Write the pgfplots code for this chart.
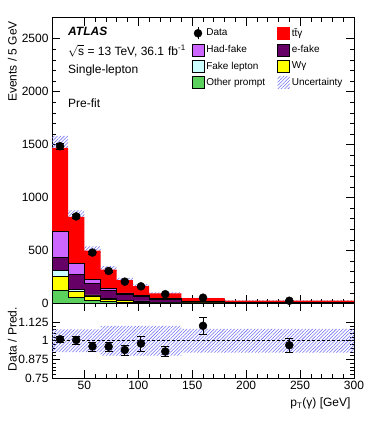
\documentclass[border=0pt]{standalone}
\usepackage{fontspec}
\setmainfont{Liberation Sans}
\usepackage{pgfplots}
\usepackage{pgfplotstable}
\pgfplotsset{compat=1.18}
\usepgfplotslibrary{fillbetween}
\usetikzlibrary{patterns.meta}

\definecolor{ttg}{RGB}{255,0,0}
\definecolor{hadfake}{RGB}{204,102,255}
\definecolor{efake}{RGB}{102,0,102}
\definecolor{fakelep}{RGB}{204,255,255}
\definecolor{wgam}{RGB}{255,255,0}
\definecolor{otherp}{RGB}{92,208,92}
\definecolor{hatch}{RGB}{110,110,245}

% left bin edges; cumulative stack tops (last row closes the 180-300 bin)
\pgfplotstableread{
x   tot  hf  ef  fl  wg  op  hi   lo   rhi   rlo
20  1470 680 433 316 253 120 1583 1357 1.077 0.923
35  817  380 275 133 117 57  880  754  1.077 0.923
50  500  231 190 82  72  31  539  462  1.077 0.923
65  320  142 120 47  41  20  352  288  1.10  0.90
80  220  101 88  33  28  14  242  198  1.10  0.90
95  165  79  69  25  22  10  182  148  1.10  0.90
110 95   47  40  14  12  6   105  85   1.10  0.90
140 50   17  14  7   6   3   54   46   1.08  0.92
180 27   9   7   4   3   2   29   25   1.08  0.92
300 27   9   7   4   3   2   29   25   1.08  0.92
}\stack

\pgfplotstableread{
x     y    ey   r     er
27.5  1485 30   1.010 0.020
42.5  822  20   1.005 0.025
57.5  481  15   0.962 0.030
72.5  307  10   0.960 0.030
87.5  206  7    0.938 0.033
102.5 162  8    0.981 0.050
125   88   3    0.928 0.035
160   55   3    1.100 0.057
240   26   1.2  0.970 0.045
}\data

\tikzset{hatchband/.style={draw=none,
    pattern={Lines[angle=45,distance=2.4pt,line width=0.55pt]}, pattern color=hatch}}

\pgfplotsset{
  atlas/.style={
    scale only axis, width=302pt,
    xmin=20, xmax=300,
    tick align=inside, tick pos=both, ticklabel pos=left,
    major tick length=8pt, minor tick length=4pt,
    axis line style={line width=0.7pt},
    every tick/.style={black, line width=0.6pt},
    tick label style={font=\fontsize{12}{14}\selectfont},
    label style={font=\fontsize{12}{14}\selectfont},
    /pgf/number format/assume math mode=true,
    /pgf/number format/1000 sep={},
    scaled ticks=false,
    xtick={50,100,...,300}, minor x tick num=4,
  },
}

\begin{document}
\begin{tikzpicture}
\path (0,0) rectangle (374pt,421pt);

\begin{axis}[atlas,
  at={(52pt,117.5pt)}, anchor=south west, height=286pt,
  ymin=0, ymax=2700,
  ytick={0,500,...,2500}, minor y tick num=4,
  xticklabels={},
  ylabel={Events / 5 GeV},
  ylabel style={at={(axis description cs:-0.105,1)}, anchor=south east},
  legend columns=2,
  legend cell align=left,
  legend style={at={(0.452,0.976)}, anchor=north west, draw=none, fill=none,
    font=\fontsize{10}{12}\selectfont, row sep=3.6pt,
    /tikz/every even column/.append style={column sep=10pt}},
]
\addplot[const plot mark left, fill=ttg, draw=none, forget plot] table[x=x,y=tot]{\stack} \closedcycle;
\addplot[const plot mark left, fill=hadfake, draw=black, line width=0.6pt, forget plot] table[x=x,y=hf]{\stack} \closedcycle;
\addplot[const plot mark left, fill=efake, draw=black, line width=0.6pt, forget plot] table[x=x,y=ef]{\stack} \closedcycle;
\addplot[const plot mark left, fill=fakelep, draw=black, line width=0.6pt, forget plot] table[x=x,y=fl]{\stack} \closedcycle;
\addplot[const plot mark left, fill=wgam, draw=black, line width=0.6pt, forget plot] table[x=x,y=wg]{\stack} \closedcycle;
\addplot[const plot mark left, fill=otherp, draw=black, line width=0.6pt, forget plot] table[x=x,y=op]{\stack} \closedcycle;

\addplot[name path=hi, const plot mark left, draw=none, forget plot] table[x=x,y=hi]{\stack};
\addplot[name path=lo, const plot mark left, draw=none, forget plot] table[x=x,y=lo]{\stack};
\addplot[hatchband, forget plot] fill between[of=hi and lo];

\addplot[only marks, mark=*, mark size=4pt, black, forget plot,
  error bars/.cd, y dir=both, y explicit, error bar style={line width=1pt}]
  table[x=x, y=y, y error=ey]{\data};

\addlegendimage{legend image code/.code={
  \draw[black, line width=1pt] (6pt,-6pt)--(6pt,6pt);
  \fill[black] (6pt,0pt) circle (4pt);}}
\addlegendentry{Data}
\addlegendimage{legend image code/.code={\draw[fill=ttg, draw=ttg] (0pt,-6pt) rectangle (12pt,6pt);}}
\addlegendentry{t\=tγ}
\addlegendimage{legend image code/.code={\draw[fill=hadfake, draw=black, line width=0.6pt] (0pt,-6pt) rectangle (12pt,6pt);}}
\addlegendentry{Had-fake}
\addlegendimage{legend image code/.code={\draw[fill=efake, draw=black, line width=0.6pt] (0pt,-6pt) rectangle (12pt,6pt);}}
\addlegendentry{e-fake}
\addlegendimage{legend image code/.code={\draw[fill=fakelep, draw=black, line width=0.6pt] (0pt,-6pt) rectangle (12pt,6pt);}}
\addlegendentry{Fake lepton}
\addlegendimage{legend image code/.code={\draw[fill=wgam, draw=black, line width=0.6pt] (0pt,-6pt) rectangle (12pt,6pt);}}
\addlegendentry{Wγ}
\addlegendimage{legend image code/.code={\draw[fill=otherp, draw=black, line width=0.6pt] (0pt,-6pt) rectangle (12pt,6pt);}}
\addlegendentry{Other prompt}
\addlegendimage{legend image code/.code={\path[hatchband] (0pt,-6pt) rectangle (12pt,6pt);}}
\addlegendentry{Uncertainty}

\node[anchor=west, inner sep=0pt, font=\fontsize{12}{14}\selectfont\bfseries\itshape] at (rel axis cs:0.053,0.951) {ATLAS};
\node[anchor=west, inner sep=0pt, font=\fontsize{12}{14}\selectfont] at (rel axis cs:0.053,0.883) {\smash{$\sqrt{\mbox{s}}$} = 13 TeV, 36.1\,\,fb\textsuperscript{-1}};
\node[anchor=west, inner sep=0pt, font=\fontsize{12}{14}\selectfont] at (rel axis cs:0.053,0.815) {Single-lepton};
\node[anchor=west, inner sep=0pt, font=\fontsize{12}{14}\selectfont] at (rel axis cs:0.053,0.699) {Pre-fit};
\end{axis}

\begin{axis}[atlas,
  at={(52pt,43pt)}, anchor=south west, height=74.5pt,
  ymin=0.75, ymax=1.25,
  ytick={0.75,0.875,1,1.125}, yticklabels={0.75,0.875,1,1.125},
  minor y tick num=4,
  ylabel={Data / Pred.},
  ylabel style={at={(axis description cs:-0.105,1)}, anchor=south east},
  xlabel={p\textsubscript{T}(γ) [GeV]},
  xlabel style={at={(axis description cs:1,0)}, anchor=north east, yshift=-16pt},
]
\addplot[name path=rhi, const plot mark left, draw=none] table[x=x,y=rhi]{\stack};
\addplot[name path=rlo, const plot mark left, draw=none] table[x=x,y=rlo]{\stack};
\addplot[black, line width=0.6pt, dash pattern=on 3pt off 2pt] coordinates {(20,1) (300,1)};
\addplot[only marks, mark=*, mark size=4pt, black,
  error bars/.cd, y dir=both, y explicit, error bar style={line width=1pt}]
  table[x=x, y=r, y error=er]{\data};
\addplot[hatchband] fill between[of=rhi and rlo];
\end{axis}
\end{tikzpicture}
\end{document}
